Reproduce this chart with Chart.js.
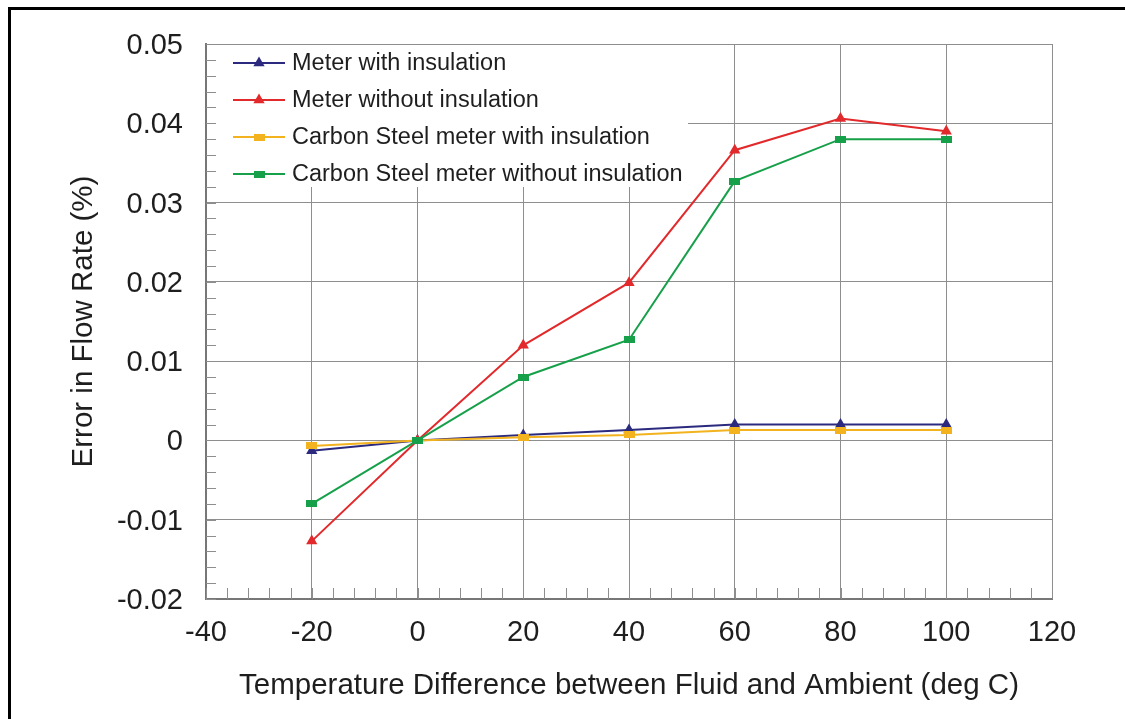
<!DOCTYPE html>
<html>
<head>
<meta charset="utf-8">
<script src="https://cdn.jsdelivr.net/npm/chart.js@4.4.1/dist/chart.umd.min.js"></script>
<style>
  html, body { margin: 0; padding: 0; background: #fff; }
  #wrap { position: relative; width: 1125px; height: 719px; }
  #frame { position: absolute; left: 8px; top: 7px; right: -10px; bottom: -10px;
           border-left: 3px solid #000; border-top: 3px solid #000; pointer-events: none; }
  canvas { display: block; }
</style>
</head>
<body>
<div id="wrap">
  <canvas id="flowChart" width="1125" height="719"></canvas>
  <div id="frame"></div>
</div>
<script>
// Temperature difference (deg C)
const temps = [-20, 0, 20, 40, 60, 80, 100];

// Error in flow rate (%)
const meterInsulated = [-0.0013, 0, 0.0007, 0.0013, 0.002, 0.002, 0.002];
const meterBare = [-0.0127, 0, 0.012, 0.0199, 0.0366, 0.0406, 0.039];
const steelInsulated = [-0.0007, 0, 0.0004, 0.0007, 0.0013, 0.0013, 0.0013];
const steelBare = [-0.008, 0, 0.008, 0.0127, 0.0327, 0.038, 0.038];

const seriesNames = [
  'Meter with insulation',
  'Meter without insulation',
  'Carbon Steel meter with insulation',
  'Carbon Steel meter without insulation'
];

const COLORS = {
  navy: '#2c2a7e',
  red: '#e2292b',
  orange: '#f2b31e',
  green: '#17a04a',
  grid: '#8e8e8e',
  text: '#1e1e1e'
};

const FONT = '"Liberation Sans", Arial, sans-serif';

/**
 * Flattened square marker (drawn as a small canvas)
 */
function rectMarker(color) {
  const c = document.createElement('canvas');
  c.width = 11;
  c.height = 7;
  const g = c.getContext('2d');
  g.fillStyle = color;
  g.fillRect(0, 0, 11, 7);
  return c;
}

function toPoints(values) {
  return temps.map((t, i) => ({ x: t, y: values[i] }));
}

function makeDataset(label, values, color, marker, order) {
  const isTri = marker === 'triangle';
  return {
    label: label,
    data: toPoints(values),
    borderColor: color,
    backgroundColor: color,
    borderWidth: 2,
    pointStyle: isTri ? 'triangle' : rectMarker(color),
    pointRadius: isTri ? 6.5 : 5,
    pointBorderWidth: 0,
    pointBackgroundColor: color,
    showLine: true,
    tension: 0,
    order: order
  };
}

/**
 * Minor ticks and in-plot legend
 */
const decorPlugin = {
  id: 'decor',
  beforeDatasetsDraw(chart) {
    const { ctx, chartArea: a, scales } = chart;
    const xs = scales.x;
    const ys = scales.y;

    // legend background hides grid lines
    const legendRight = 688;
    const legendBottom = 187;
    ctx.save();
    ctx.fillStyle = '#fff';
    ctx.fillRect(a.left + 1, a.top + 1, legendRight - a.left - 1, legendBottom - a.top - 1);

    // minor ticks
    ctx.strokeStyle = COLORS.grid;
    ctx.lineWidth = 1;
    ctx.beginPath();
    for (let v = -0.02; v <= 0.05 + 1e-9; v += 0.002) {
      const y = Math.round(ys.getPixelForValue(v)) + 0.5;
      ctx.moveTo(a.left, y);
      ctx.lineTo(a.left + 10, y);
    }
    for (let v = -40; v <= 120; v += 4) {
      const x = Math.round(xs.getPixelForValue(v)) + 0.5;
      ctx.moveTo(x, a.bottom);
      ctx.lineTo(x, a.bottom - 11);
    }
    ctx.stroke();

    // legend entries
    ctx.font = '23.5px ' + FONT;
    ctx.textBaseline = 'middle';
    ctx.textAlign = 'left';
    chart.data.datasets.forEach((ds, i) => {
      const y = 63 + i * 37;
      ctx.strokeStyle = ds.borderColor;
      ctx.lineWidth = 2;
      ctx.beginPath();
      ctx.moveTo(233, y);
      ctx.lineTo(285, y);
      ctx.stroke();
      ctx.fillStyle = ds.borderColor;
      if (ds.pointStyle === 'triangle') {
        Chart.helpers.drawPoint(ctx, { pointStyle: 'triangle', radius: 6.5, borderWidth: 0 }, 259, y);
      } else {
        ctx.drawImage(ds.pointStyle, 259 - 5.5, y - 3.5);
      }
      ctx.fillStyle = COLORS.text;
      ctx.fillText(ds.label, 292, y + 1);
    });
    ctx.restore();
  }
};

const flowChart = new Chart(document.getElementById('flowChart').getContext('2d'), {
  type: 'scatter',
  data: {
    datasets: [
      makeDataset(seriesNames[0], meterInsulated, COLORS.navy, 'triangle', 4),
      makeDataset(seriesNames[1], meterBare, COLORS.red, 'triangle', 3),
      makeDataset(seriesNames[2], steelInsulated, COLORS.orange, 'rect', 2),
      makeDataset(seriesNames[3], steelBare, COLORS.green, 'rect', 1)
    ]
  },
  options: {
    responsive: false,
    animation: false,
    layout: {
      padding: { left: 62, top: 44, right: 73, bottom: 11 }
    },
    plugins: {
      legend: { display: false },
      tooltip: { enabled: false }
    },
    scales: {
      x: {
        type: 'linear',
        min: -40,
        max: 120,
        ticks: {
          stepSize: 20,
          padding: 17,
          color: COLORS.text,
          font: { family: FONT, size: 29 }
        },
        grid: { color: COLORS.grid, lineWidth: 1, drawTicks: false },
        border: { color: '#777', width: 2 },
        title: {
          display: true,
          text: 'Temperature Difference between Fluid and Ambient (deg C)',
          color: COLORS.text,
          font: { family: FONT, size: 29.5 }
        },
        afterFit: s => { s.height = 109; }
      },
      y: {
        min: -0.02,
        max: 0.05,
        ticks: {
          stepSize: 0.01,
          padding: 23,
          labelOffset: 2,
          color: COLORS.text,
          font: { family: FONT, size: 29 },
          callback: v => String(parseFloat(v.toFixed(2)))
        },
        grid: { color: COLORS.grid, lineWidth: 1, drawTicks: false },
        border: { color: '#777', width: 2 },
        title: {
          display: true,
          text: 'Error in Flow Rate (%)',
          color: COLORS.text,
          font: { family: FONT, size: 29.5 }
        },
        afterFit: s => { s.width = 144; }
      }
    }
  },
  plugins: [decorPlugin]
});
</script>
</body>
</html>
